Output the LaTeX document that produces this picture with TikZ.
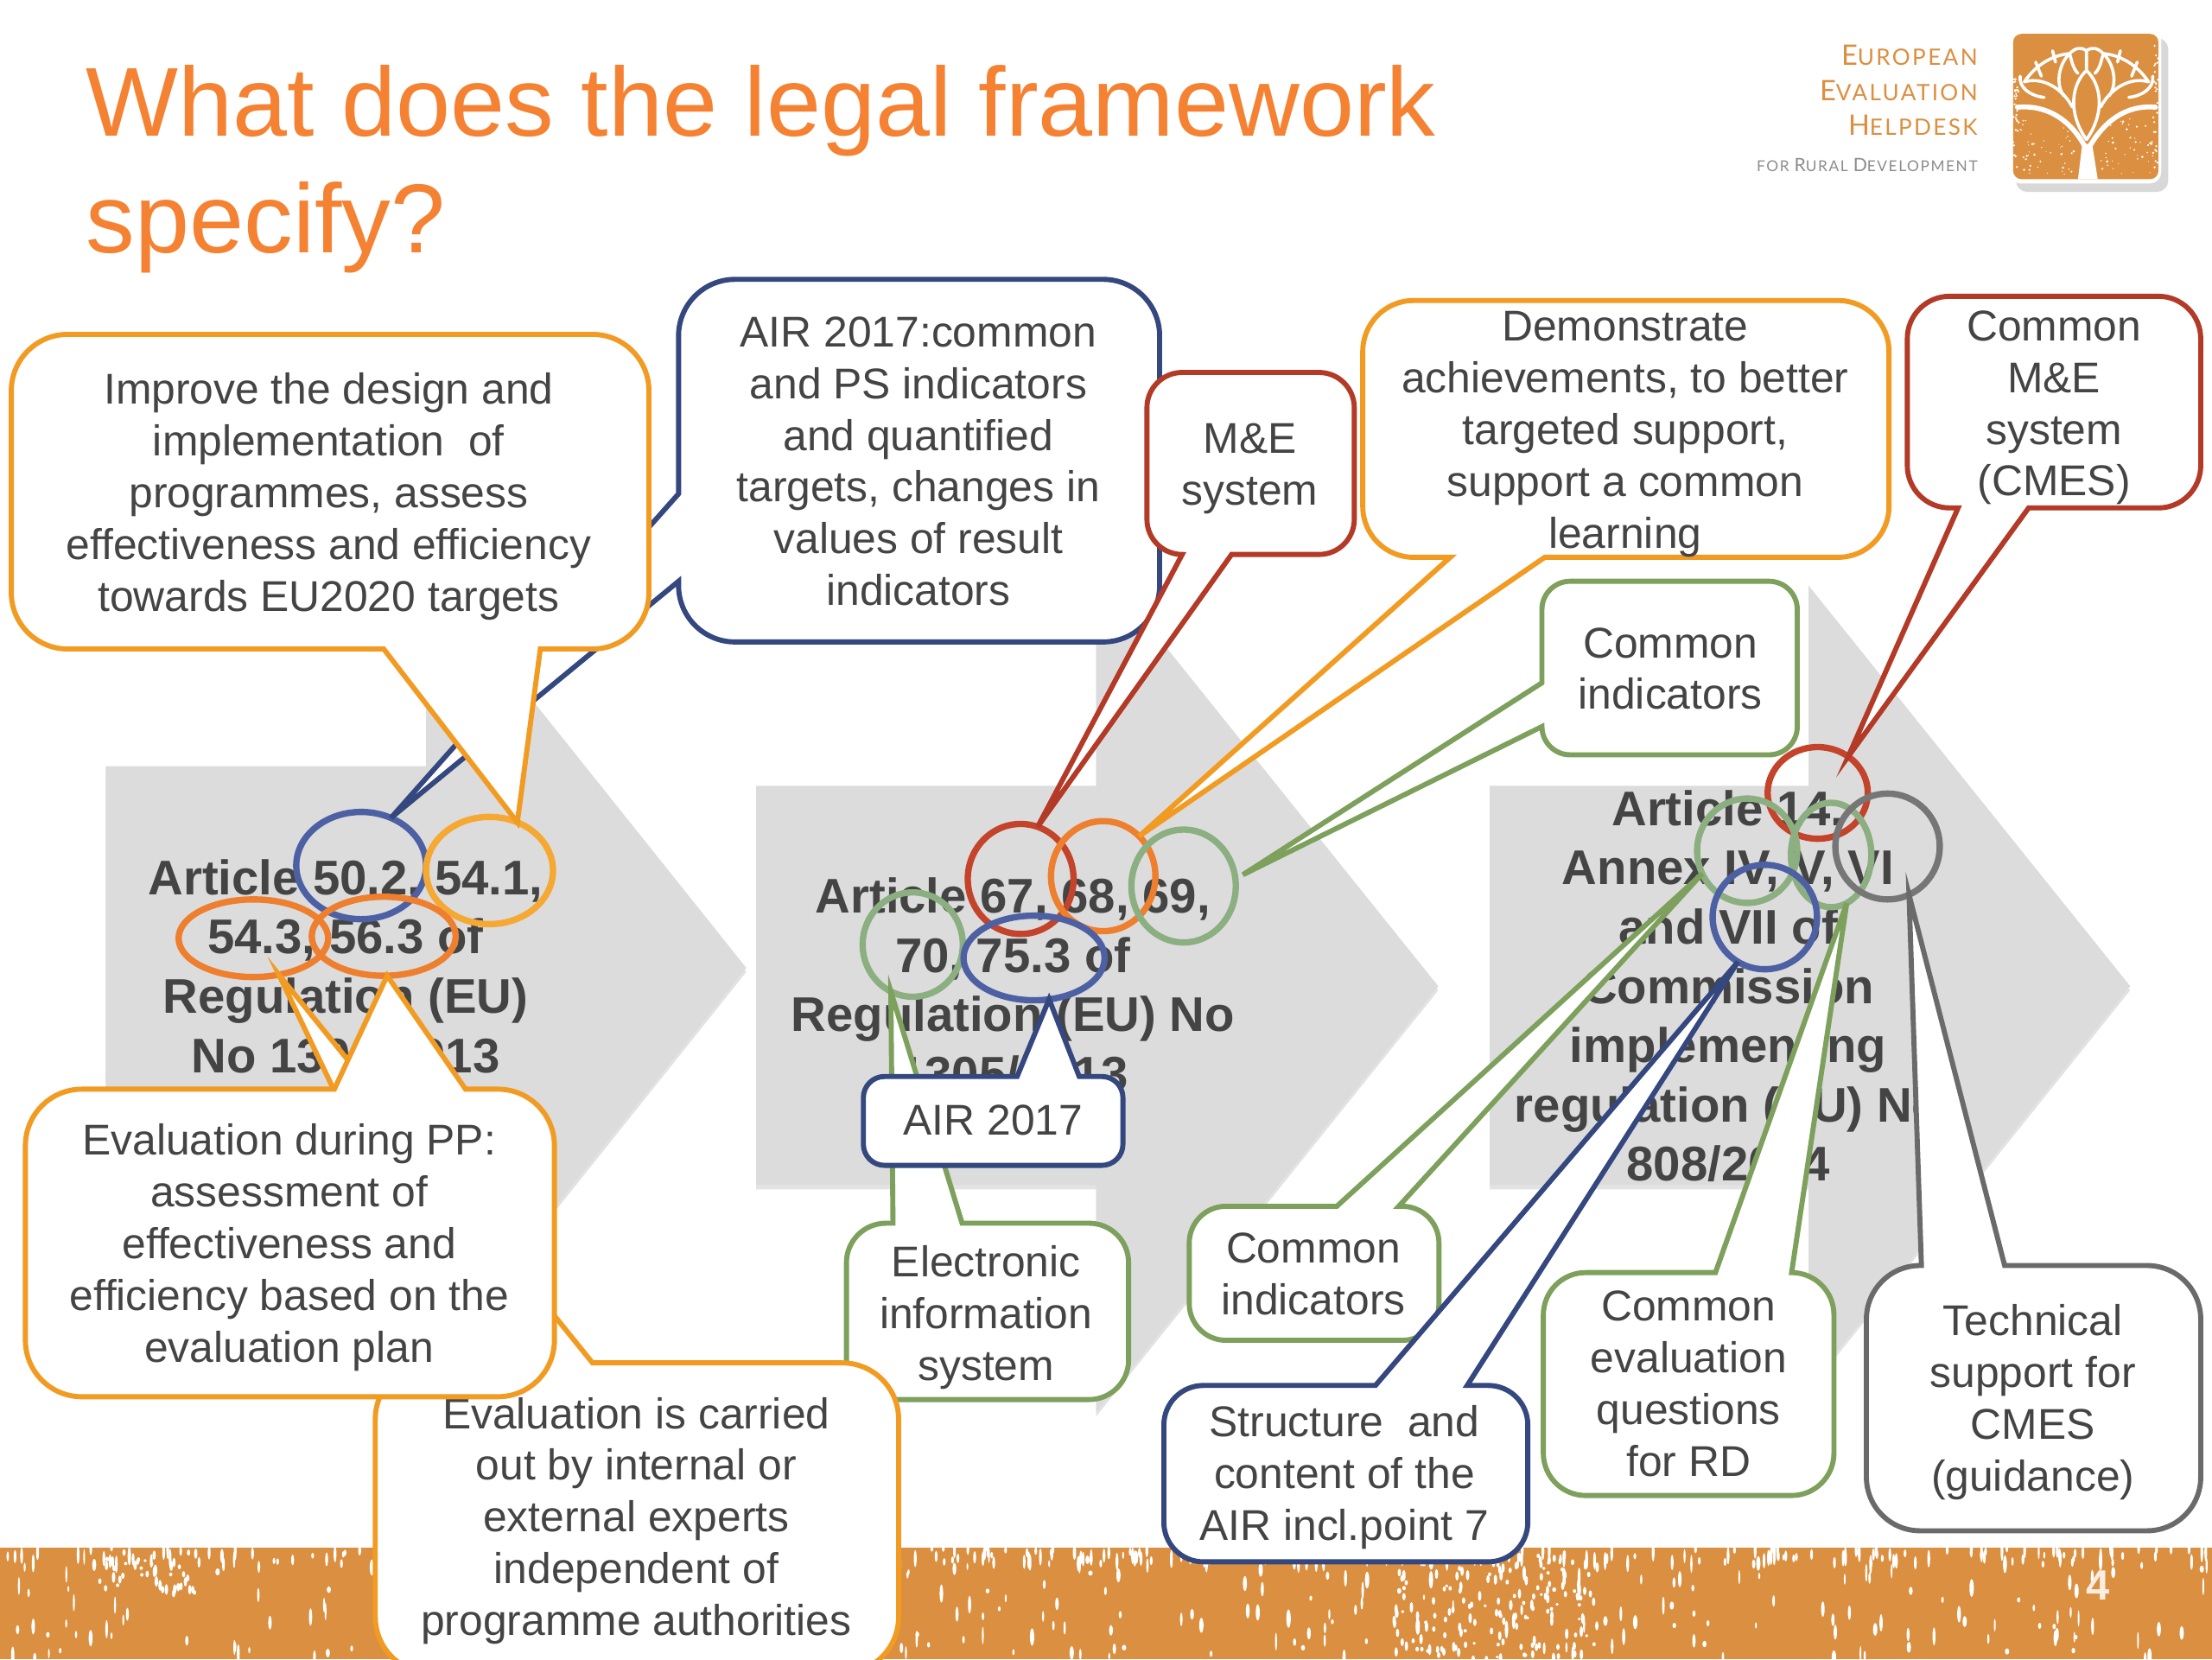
\documentclass[tikz,border=0pt]{standalone}
\usepackage{fontspec}
\usepackage{xcolor}
\setmainfont{Liberation Sans}
\newfontfamily\logofont[LetterSpace=9]{Lato}
\usetikzlibrary{positioning, calc, shapes.geometric, shadows}

\definecolor{titlecol}{HTML}{F58233}
\definecolor{inkcol}{HTML}{444444}
\definecolor{panelcol}{HTML}{DCDCDC}
\definecolor{bandcol}{HTML}{DB8F40}
\definecolor{amberline}{HTML}{F29B22}
\definecolor{blueline}{HTML}{34477F}
\definecolor{redline}{HTML}{B23A27}
\definecolor{greenline}{HTML}{7DA05C}
\definecolor{greyline}{HTML}{6A6A6A}
\definecolor{bluering}{HTML}{4C60A3}
\definecolor{amberring}{HTML}{F5A832}
\definecolor{orangering}{HTML}{EE7F2E}
\definecolor{redring}{HTML}{C4432B}
\definecolor{greenring}{HTML}{8BAF80}
\definecolor{greyring}{HTML}{767676}

\tikzset{
    panel/.style={fill=panelcol, drop shadow={shadow xshift=0pt, shadow yshift=-3pt, opacity=0.22}},
    legal/.style={align=center, text=inkcol, font=\fontsize{34.5}{42}\selectfont\bfseries, inner sep=0pt},
    ring/.style={ellipse, draw, line width=4.5pt, inner sep=0pt, outer sep=0pt, minimum width=2*#1},
    balloon/.style={fill=white, line width=3.6pt, line join=miter},
    note/.style={align=center, text=inkcol, font=\fontsize{30.5}{36.7}\selectfont, inner sep=0pt}
}
\newcommand{\logocap}[2]{{\fontsize{20}{20}\selectfont #1}{\fontsize{16}{16}\selectfont #2}}
\newcommand{\logosub}[2]{{\fontsize{13}{13}\selectfont #1}{\fontsize{10.6}{10.6}\selectfont #2}}

\begin{document}
\begin{tikzpicture}[x=1pt, y=-1pt]
    \useasboundingbox (0,0) rectangle (1568,1176);
    \fill[white] (0,0) rectangle (1568,1176);

    % footer band
    \fill[bandcol] (0,1097) rectangle (1568,1176);
    \pgfmathsetseed{41}
    \foreach \i in {1,...,300}
        \fill[white] ({rnd*1568},{1098+rnd*78}) ellipse ({0.6+rnd} and {1.5+rnd*5});
    \foreach \i in {1,...,260}
        \fill[white] ({rnd*1568},{1097+rnd*12}) ellipse (1 and {2+rnd*5});
    \foreach \i in {1,...,170}
        \fill[white] ({985+rnd*150},{1100+rnd*76}) ellipse (1.2 and {1+rnd*3});
    \foreach \i in {1,...,40}
        \fill[white] ({70+rnd*70},{1100+rnd*30}) ellipse (1.2 and {1+rnd*3});
    \node[text=white!85!bandcol, font=\fontsize{30}{30}\selectfont\bfseries] (pageno) at (1487,1124) {4};

    % title
    \node[right, text=titlecol, font=\fontsize{69.4}{83}\selectfont, align=left, inner sep=0pt] (title) at (61,120)
        {What does the legal framework\\specify?};

    % logo
    \node[left, text=bandcol, font=\logofont, inner sep=0pt] (logoa) at (1402,39) {\logocap{E}{UROPEAN}};
    \node[left, text=bandcol, font=\logofont, inner sep=0pt] (logob) at (1402,64) {\logocap{E}{VALUATION}};
    \node[left, text=bandcol, font=\logofont, inner sep=0pt] (logoc) at (1402,89) {\logocap{H}{ELPDESK}};
    \node[left, text=black!45, font=\logofont, inner sep=0pt] (logod) at (1402,117) {\logosub{}{FOR }\logosub{R}{URAL }\logosub{D}{EVELOPMENT}};
    \fill[white, rounded corners=8pt, drop shadow={shadow xshift=5pt, shadow yshift=-6pt, opacity=0.3}] (1424,21) rectangle (1532,130);
    \fill[bandcol, rounded corners=6pt] (1427,24) rectangle (1530,127);
    \begin{scope}[shift={(1427,24)}, white, line cap=round, line width=2.2pt]
        \fill (46,103) -- (49,78) -- (56,78) -- (60,103) -- cycle;
        \draw[line width=3.5pt] (52,82) .. controls (42,62) and (25,50) .. (3,52);
        \draw[line width=3.5pt] (53,82) .. controls (64,62) and (80,50) .. (101,52);
        \draw (52,75) .. controls (38,55) and (42,35) .. (52,26) .. controls (62,35) and (66,55) .. (52,75);
        \draw (42,52) .. controls (36,40) and (22,30) .. (8,34) (62,52) .. controls (68,40) and (82,30) .. (96,34);
        \draw (36,44) .. controls (30,36) and (32,22) .. (40,14) (68,44) .. controls (74,36) and (72,22) .. (64,14);
        \draw (22,45) .. controls (12,44) and (4,38) .. (5,30) (82,45) .. controls (92,44) and (100,38) .. (99,30);
        \draw (52,26) -- (52,12) (40,14) .. controls (44,10) and (48,9) .. (52,12) (64,14) .. controls (60,10) and (56,9) .. (52,12);
        \draw (8,34) .. controls (16,22) and (28,15) .. (40,14) (96,34) .. controls (88,22) and (76,15) .. (64,14);
        \draw (20,30) -- (16,20) (30,20) -- (28,12) (84,30) -- (88,20) (74,20) -- (76,12);
        \draw (46,28) .. controls (42,24) and (42,20) .. (40,14) (58,28) .. controls (62,24) and (62,20) .. (64,14);
        \pgfmathsetseed{7}
        \foreach \i in {1,...,45}
            \fill ({5+rnd*38},{60+rnd*40}) circle ({0.3+rnd*0.6});
        \foreach \i in {1,...,45}
            \fill ({62+rnd*38},{60+rnd*40}) circle ({0.3+rnd*0.6});
        \foreach \i in {1,...,30}
            \fill ({rnd*4},{30+rnd*65}) circle (0.8) ({99+rnd*4},{5+rnd*90}) circle (0.8);
    \end{scope}

    % stages
    \fill[panel] (75,543) -- (302,543) -- (302,402) -- (529,686) -- (302,970) -- (302,829) -- (75,829) -- cycle;
    \fill[panel] (536,557) -- (777,557) -- (777,397) -- (1019.5,699) -- (777,1001) -- (777,840) -- (536,840) -- cycle;
    \fill[panel] (1056,557) -- (1282,557) -- (1282,415) -- (1510,699) -- (1282,983) -- (1282,840) -- (1056,840) -- cycle;
    \node[legal] (regone) at (245,685) {Article 50.2, 54.1,\\54.3, 56.3 of\\Regulation (EU)\\No 1303/2013};
    \node[legal] (regtwo) at (718,698) {Article 67, 68, 69,\\70, 75.3 of\\Regulation (EU) No\\1305/2013};
    \node[legal] (regthree) at (1225,699) {Article 14,\\Annex IV, V, VI\\and VII of\\Commission\\implementing\\regulation (EU) No\\808/2014};

    % rings
    \node[ring=46pt, draw=bluering, minimum height=76pt] (artfifty) at (256,613.5) {};
    \node[ring=45pt, draw=amberring, minimum height=76pt] (artfour) at (347,617) {};
    \node[ring=53pt, draw=orangering, minimum height=55pt] (artfourc) at (179.6,665) {};
    \node[ring=51pt, draw=orangering, minimum height=56pt] (artsix) at (272,663.6) {};
    \node[ring=37.5pt, draw=redring, minimum height=78pt] (artsevn) at (723.5,623) {};
    \node[ring=37pt, draw=orangering, minimum height=78pt] (arteight) at (782,621) {};
    \node[ring=37pt, draw=greenring, minimum height=80pt] (artnine) at (839,628) {};
    \node[ring=35.5pt, draw=greenring, minimum height=74pt] (artsvnty) at (647,669.5) {};
    \node[ring=50pt, draw=bluering, minimum height=60pt] (artair) at (733,679) {};
    \node[ring=35.5pt, draw=redring, minimum height=65pt] (artforteen) at (1288.5,562) {};
    \node[ring=35.5pt, draw=greenring, minimum height=74pt] (annexiv) at (1238.5,603) {};
    \node[ring=28.5pt, draw=greenring, minimum height=74pt] (annexv) at (1298,606) {};
    \node[ring=37pt, draw=greyring, minimum height=75pt] (annexvi) at (1338,600) {};
    \node[ring=37pt, draw=bluering, minimum height=74pt] (annexvii) at (1251,650) {};
    \coordinate (tipnine) at (881,620);

    % upper balloons
    \draw[balloon, draw=blueline] (481,300) [rounded corners=40pt] -- (481,198) -- (822,198) -- (822,455) -- (481,455) [sharp corners] -- (481,412) -- (artfifty.58) -- (481,350) -- cycle;
    \node[note] (airtext) at (651,327) {AIR 2017:common\\and PS indicators\\and quantified\\targets, changes in\\values of result\\indicators};

    \draw[balloon, draw=amberline] (272,460) -- (artfour.60) -- (383,460) [rounded corners=40pt] -- (460,460) -- (460,237) -- (8,237) -- (8,460) [sharp corners] -- (272,460) -- cycle;
    \node[note] (improve) at (233,352) {Improve the design and\\implementation \ of\\programmes, assess\\effectiveness and efficiency\\towards EU2020 targets};

    \draw[balloon, draw=redline] (838,393) -- (artsevn.72) -- (873,393) [rounded corners=25pt] -- (960,393) -- (960,264) -- (813,264) -- (813,393) [sharp corners] -- (838,393) -- cycle;
    \node[note] (mesystem) at (886,332) {M\&E\\system};

    \draw[balloon, draw=amberline] (1028,395) -- (arteight.48) -- (1095,395) [rounded corners=36pt] -- (1339,395) -- (1339,213) -- (966,213) -- (966,395) [sharp corners] -- (1028,395) -- cycle;
    \node[note] (demo) at (1152,308) {Demonstrate\\achievements, to better\\targeted support,\\support a common\\learning};

    \draw[balloon, draw=greenline] (1093,484) -- (tipnine) -- (1093,515) [rounded corners=20pt] -- (1093,535) -- (1274,535) -- (1274,412) -- (1093,412) [sharp corners] -- (1093,484) -- cycle;
    \node[note] (indtop) at (1184,474) {Common\\indicators};

    \draw[balloon, draw=redline] (1388,360) -- (artforteen.50) -- (1438,360) [rounded corners=30pt] -- (1560,360) -- (1560,210) -- (1352,210) -- (1352,360) [sharp corners] -- (1388,360) -- cycle;
    \node[note] (cmes) at (1456,289) {Common\\M\&E\\system\\(CMES)};

    % lower balloons
    \draw[balloon, draw=greenline] (633,867) -- (artsvnty.-115) -- (682,867) [rounded corners=28pt] -- (800,867) -- (800,992) -- (600,992) -- (600,867) [sharp corners] -- (633,867) -- cycle;
    \node[note] (elec) at (699,934) {Electronic\\information\\system};

    \draw[balloon, draw=blueline] (721,763) -- (artair.-70) -- (765,763) [rounded corners=15pt] -- (796,763) -- (796,826) -- (612,826) -- (612,763) [sharp corners] -- (721,763) -- cycle;
    \node[note] (airshort) at (704,794) {AIR 2017};

    \draw[balloon, draw=amberline] (329,966) -- (artfourc.-55) -- (420,966) [rounded corners=40pt] -- (637,966) -- (637,1186) -- (266,1186) -- (266,966) [sharp corners] -- (329,966) -- cycle;
    \node[note] (experts) at (451,1078) {Evaluation is carried\\out by internal or\\external experts\\independent of\\programme authorities};

    \draw[balloon, draw=amberline] (237,772) -- (artsix.-85) -- (330,772) [rounded corners=40pt] -- (393,772) -- (393,990) -- (18,990) -- (18,772) [sharp corners] -- (237,772) -- cycle;
    \node[note] (during) at (205,884) {Evaluation during PP:\\assessment of\\effectiveness and\\efficiency based on the\\evaluation plan};

    \draw[balloon, draw=greenline] (947.6,855) -- (annexiv.207) -- (991.5,855) [rounded corners=26pt] -- (1020,855) -- (1020,950) -- (843,950) -- (843,855) [sharp corners] -- (947.6,855) -- cycle;
    \node[note] (indlow) at (931,903) {Common\\indicators};

    \draw[balloon, draw=greenline] (1216,902) -- (annexv.-72) -- (1270,902) [rounded corners=30pt] -- (1300,902) -- (1300,1060) -- (1094,1060) -- (1094,902) [sharp corners] -- (1216,902) -- cycle;
    \node[note] (questions) at (1197,981) {Common\\evaluation\\questions\\for RD};

    \draw[balloon, draw=blueline] (975,982) -- (annexvii.-121) -- (1040,982) [rounded corners=28pt] -- (1083,982) -- (1083,1107) -- (825,1107) -- (825,982) [sharp corners] -- (975,982) -- cycle;
    \node[note] (structure) at (953,1047) {Structure \ and\\content of the\\AIR incl.point 7};

    \draw[balloon, draw=greyline] (1362,897) -- (annexvi.-66) -- (1421,897) [rounded corners=38pt] -- (1560,897) -- (1560,1085) -- (1323,1085) -- (1323,897) [sharp corners] -- (1362,897) -- cycle;
    \node[note] (support) at (1441,994) {Technical\\support for\\CMES\\(guidance)};
\end{tikzpicture}
\end{document}
